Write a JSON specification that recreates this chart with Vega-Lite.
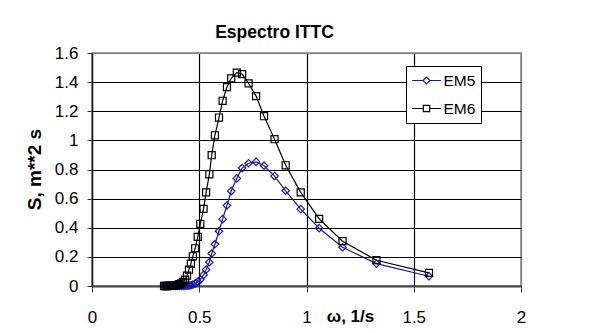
{
  "$schema": "https://vega.github.io/schema/vega-lite/v6.json",
  "width": 429,
  "height": 233,
  "autosize": {"type": "none"},
  "padding": {"left": 92, "top": 53, "right": 90, "bottom": 47},
  "background": "white",
  "config": {"view": {"stroke": "#808080", "strokeWidth": 1.5}},
  "title": {"text": "Espectro ITTC", "font": "Liberation Sans", "fontSize": 17.5, "fontWeight": "bold", "color": "black", "anchor": "middle", "dx": -32, "dy": 25, "offset": 14, "baseline": "alphabetic"},
  "data": {"values": [
    {"w":1.571,"S":0.090,"s":"EM6"},{"w":1.326,"S":0.177,"s":"EM6"},{"w":1.168,"S":0.308,"s":"EM6"},{"w":1.059,"S":0.461,"s":"EM6"},
    {"w":0.973,"S":0.643,"s":"EM6"},{"w":0.903,"S":0.829,"s":"EM6"},{"w":0.851,"S":1.008,"s":"EM6"},{"w":0.802,"S":1.166,"s":"EM6"},
    {"w":0.765,"S":1.304,"s":"EM6"},{"w":0.730,"S":1.391,"s":"EM6"},{"w":0.700,"S":1.455,"s":"EM6"},{"w":0.675,"S":1.465,"s":"EM6"},
    {"w":0.649,"S":1.426,"s":"EM6"},{"w":0.629,"S":1.366,"s":"EM6"},{"w":0.609,"S":1.272,"s":"EM6"},{"w":0.592,"S":1.157,"s":"EM6"},
    {"w":0.573,"S":1.035,"s":"EM6"},{"w":0.558,"S":0.898,"s":"EM6"},{"w":0.547,"S":0.767,"s":"EM6"},{"w":0.532,"S":0.643,"s":"EM6"},
    {"w":0.520,"S":0.530,"s":"EM6"},{"w":0.505,"S":0.427,"s":"EM6"},{"w":0.493,"S":0.337,"s":"EM6"},{"w":0.481,"S":0.259,"s":"EM6"},
    {"w":0.470,"S":0.204,"s":"EM6"},{"w":0.461,"S":0.154,"s":"EM6"},{"w":0.452,"S":0.112,"s":"EM6"},{"w":0.443,"S":0.071,"s":"EM6"},
    {"w":0.434,"S":0.044,"s":"EM6"},{"w":0.425,"S":0.028,"s":"EM6"},{"w":0.416,"S":0.018,"s":"EM6"},{"w":0.407,"S":0.012,"s":"EM6"},
    {"w":0.398,"S":0.008,"s":"EM6"},{"w":0.389,"S":0.005,"s":"EM6"},{"w":0.381,"S":0.003,"s":"EM6"},{"w":0.373,"S":0.002,"s":"EM6"},
    {"w":0.365,"S":0.001,"s":"EM6"},{"w":0.357,"S":0.001,"s":"EM6"},{"w":0.350,"S":0.0,"s":"EM6"},{"w":0.343,"S":0.0,"s":"EM6"},
    {"w":0.336,"S":0.0,"s":"EM6"},
    {"w":1.571,"S":0.067,"s":"EM5"},{"w":1.326,"S":0.154,"s":"EM5"},{"w":1.168,"S":0.266,"s":"EM5"},{"w":1.059,"S":0.397,"s":"EM5"},
    {"w":0.973,"S":0.528,"s":"EM5"},{"w":0.903,"S":0.654,"s":"EM5"},{"w":0.851,"S":0.755,"s":"EM5"},{"w":0.802,"S":0.826,"s":"EM5"},
    {"w":0.765,"S":0.852,"s":"EM5"},{"w":0.730,"S":0.843,"s":"EM5"},{"w":0.700,"S":0.810,"s":"EM5"},{"w":0.675,"S":0.739,"s":"EM5"},
    {"w":0.649,"S":0.652,"s":"EM5"},{"w":0.629,"S":0.553,"s":"EM5"},{"w":0.609,"S":0.459,"s":"EM5"},{"w":0.592,"S":0.376,"s":"EM5"},
    {"w":0.573,"S":0.287,"s":"EM5"},{"w":0.558,"S":0.223,"s":"EM5"},{"w":0.547,"S":0.163,"s":"EM5"},{"w":0.532,"S":0.112,"s":"EM5"},
    {"w":0.520,"S":0.076,"s":"EM5"},{"w":0.505,"S":0.044,"s":"EM5"},{"w":0.493,"S":0.028,"s":"EM5"},{"w":0.481,"S":0.016,"s":"EM5"},
    {"w":0.470,"S":0.009,"s":"EM5"},{"w":0.461,"S":0.005,"s":"EM5"},{"w":0.452,"S":0.003,"s":"EM5"},{"w":0.443,"S":0.002,"s":"EM5"},
    {"w":0.434,"S":0.001,"s":"EM5"},{"w":0.425,"S":0.001,"s":"EM5"},{"w":0.416,"S":0.0,"s":"EM5"},{"w":0.407,"S":0.0,"s":"EM5"},
    {"w":0.398,"S":0.0,"s":"EM5"},{"w":0.389,"S":0.0,"s":"EM5"},{"w":0.381,"S":0.0,"s":"EM5"},{"w":0.373,"S":0.0,"s":"EM5"},
    {"w":0.365,"S":0.0,"s":"EM5"},{"w":0.357,"S":0.0,"s":"EM5"},{"w":0.350,"S":0.0,"s":"EM5"},{"w":0.343,"S":0.0,"s":"EM5"},
    {"w":0.336,"S":0.0,"s":"EM5"}
  ]},
  "encoding": {
    "x": {"field": "w", "type": "quantitative", "sort": null,
      "scale": {"domain": [0, 2], "nice": false, "zero": false},
      "axis": {"values": [0, 0.5, 1, 1.5, 2], "format": "~g", "title": "ω, 1/s",
        "labelFont": "Liberation Sans", "labelFontSize": 17, "labelColor": "black", "labelPadding": 17,
        "labelFlush": false, "labelOverlap": false,
        "tickSize": 6, "tickColor": "#333333", "tickWidth": 1,
        "domainColor": "#444444", "domainWidth": 2,
        "grid": true, "gridOpacity": 1, "gridWidth": 1.2,
        "gridColor": {"condition": {"test": "datum.value === 2", "value": "#808080"}, "value": "black"},
        "titleFont": "Liberation Sans", "titleFontSize": 17, "titleFontWeight": "bold", "titleColor": "black",
        "titleX": 258, "titleY": 30, "titleBaseline": "middle", "titleAlign": "center"}},
    "y": {"field": "S", "type": "quantitative",
      "scale": {"domain": [0, 1.6], "nice": false},
      "axis": {"values": [0, 0.2, 0.4, 0.6, 0.8, 1, 1.2, 1.4, 1.6], "format": "~g", "title": "S, m**2 s",
        "labelFont": "Liberation Sans", "labelFontSize": 17, "labelColor": "black", "labelPadding": 9,
        "labelFlush": false, "labelOverlap": false,
        "tickSize": 5, "tickColor": "#333333", "tickWidth": 1,
        "domainColor": "#222222", "domainWidth": 1.5,
        "grid": true, "gridOpacity": 1, "gridWidth": 1.2,
        "gridColor": {"condition": {"test": "datum.value === 1.6", "value": "#808080"}, "value": "black"},
        "titleFont": "Liberation Sans", "titleFontSize": 19, "titleFontWeight": "bold", "titleColor": "black",
        "titleAngle": 270, "titleX": -58, "titleY": 116, "titleBaseline": "middle", "titleAlign": "center"}}
  },
  "layer": [
    {"mark": {"type": "line", "strokeWidth": 1.2},
      "encoding": {
        "color": {"field": "s", "type": "nominal",
          "scale": {"domain": ["EM5", "EM6"], "range": ["#1a1aa0", "#000000"]},
          "legend": {"orient": "none", "legendX": 314, "legendY": 13, "title": null, "direction": "vertical",
            "fillColor": "white", "strokeColor": "black", "padding": 5.5,
            "labelFont": "Liberation Sans", "labelFontSize": 15.5, "labelColor": "black", "labelOffset": 8,
            "symbolSize": 256, "symbolOffset": 6, "symbolStrokeWidth": 1.2, "rowPadding": 10,
            "encode": {"symbols": {"update": {
              "shape": {"signal": "datum.value === 'EM5' ? 'M-1.8,0L-0.44,0M0.44,0L1.8,0M-0.44,0L0,-0.44L0.44,0L0,0.44Z' : 'M-1.8,0L-0.4,0M0.4,0L1.8,0M-0.4,-0.4L0.4,-0.4L0.4,0.4L-0.4,0.4Z'"},
              "fill": {"value": "transparent"}}}}}}
      }},
    {"transform": [{"filter": "datum.s === 'EM5'"}],
      "mark": {"type": "point", "shape": "diamond", "filled": false, "stroke": "#1a1aa0", "strokeWidth": 1.2, "opacity": 1, "size": 56}},
    {"transform": [{"filter": "datum.s === 'EM6'"}],
      "mark": {"type": "point", "shape": "square", "filled": false, "stroke": "#000000", "strokeWidth": 1.2, "opacity": 1, "size": 50}}
  ]
}
